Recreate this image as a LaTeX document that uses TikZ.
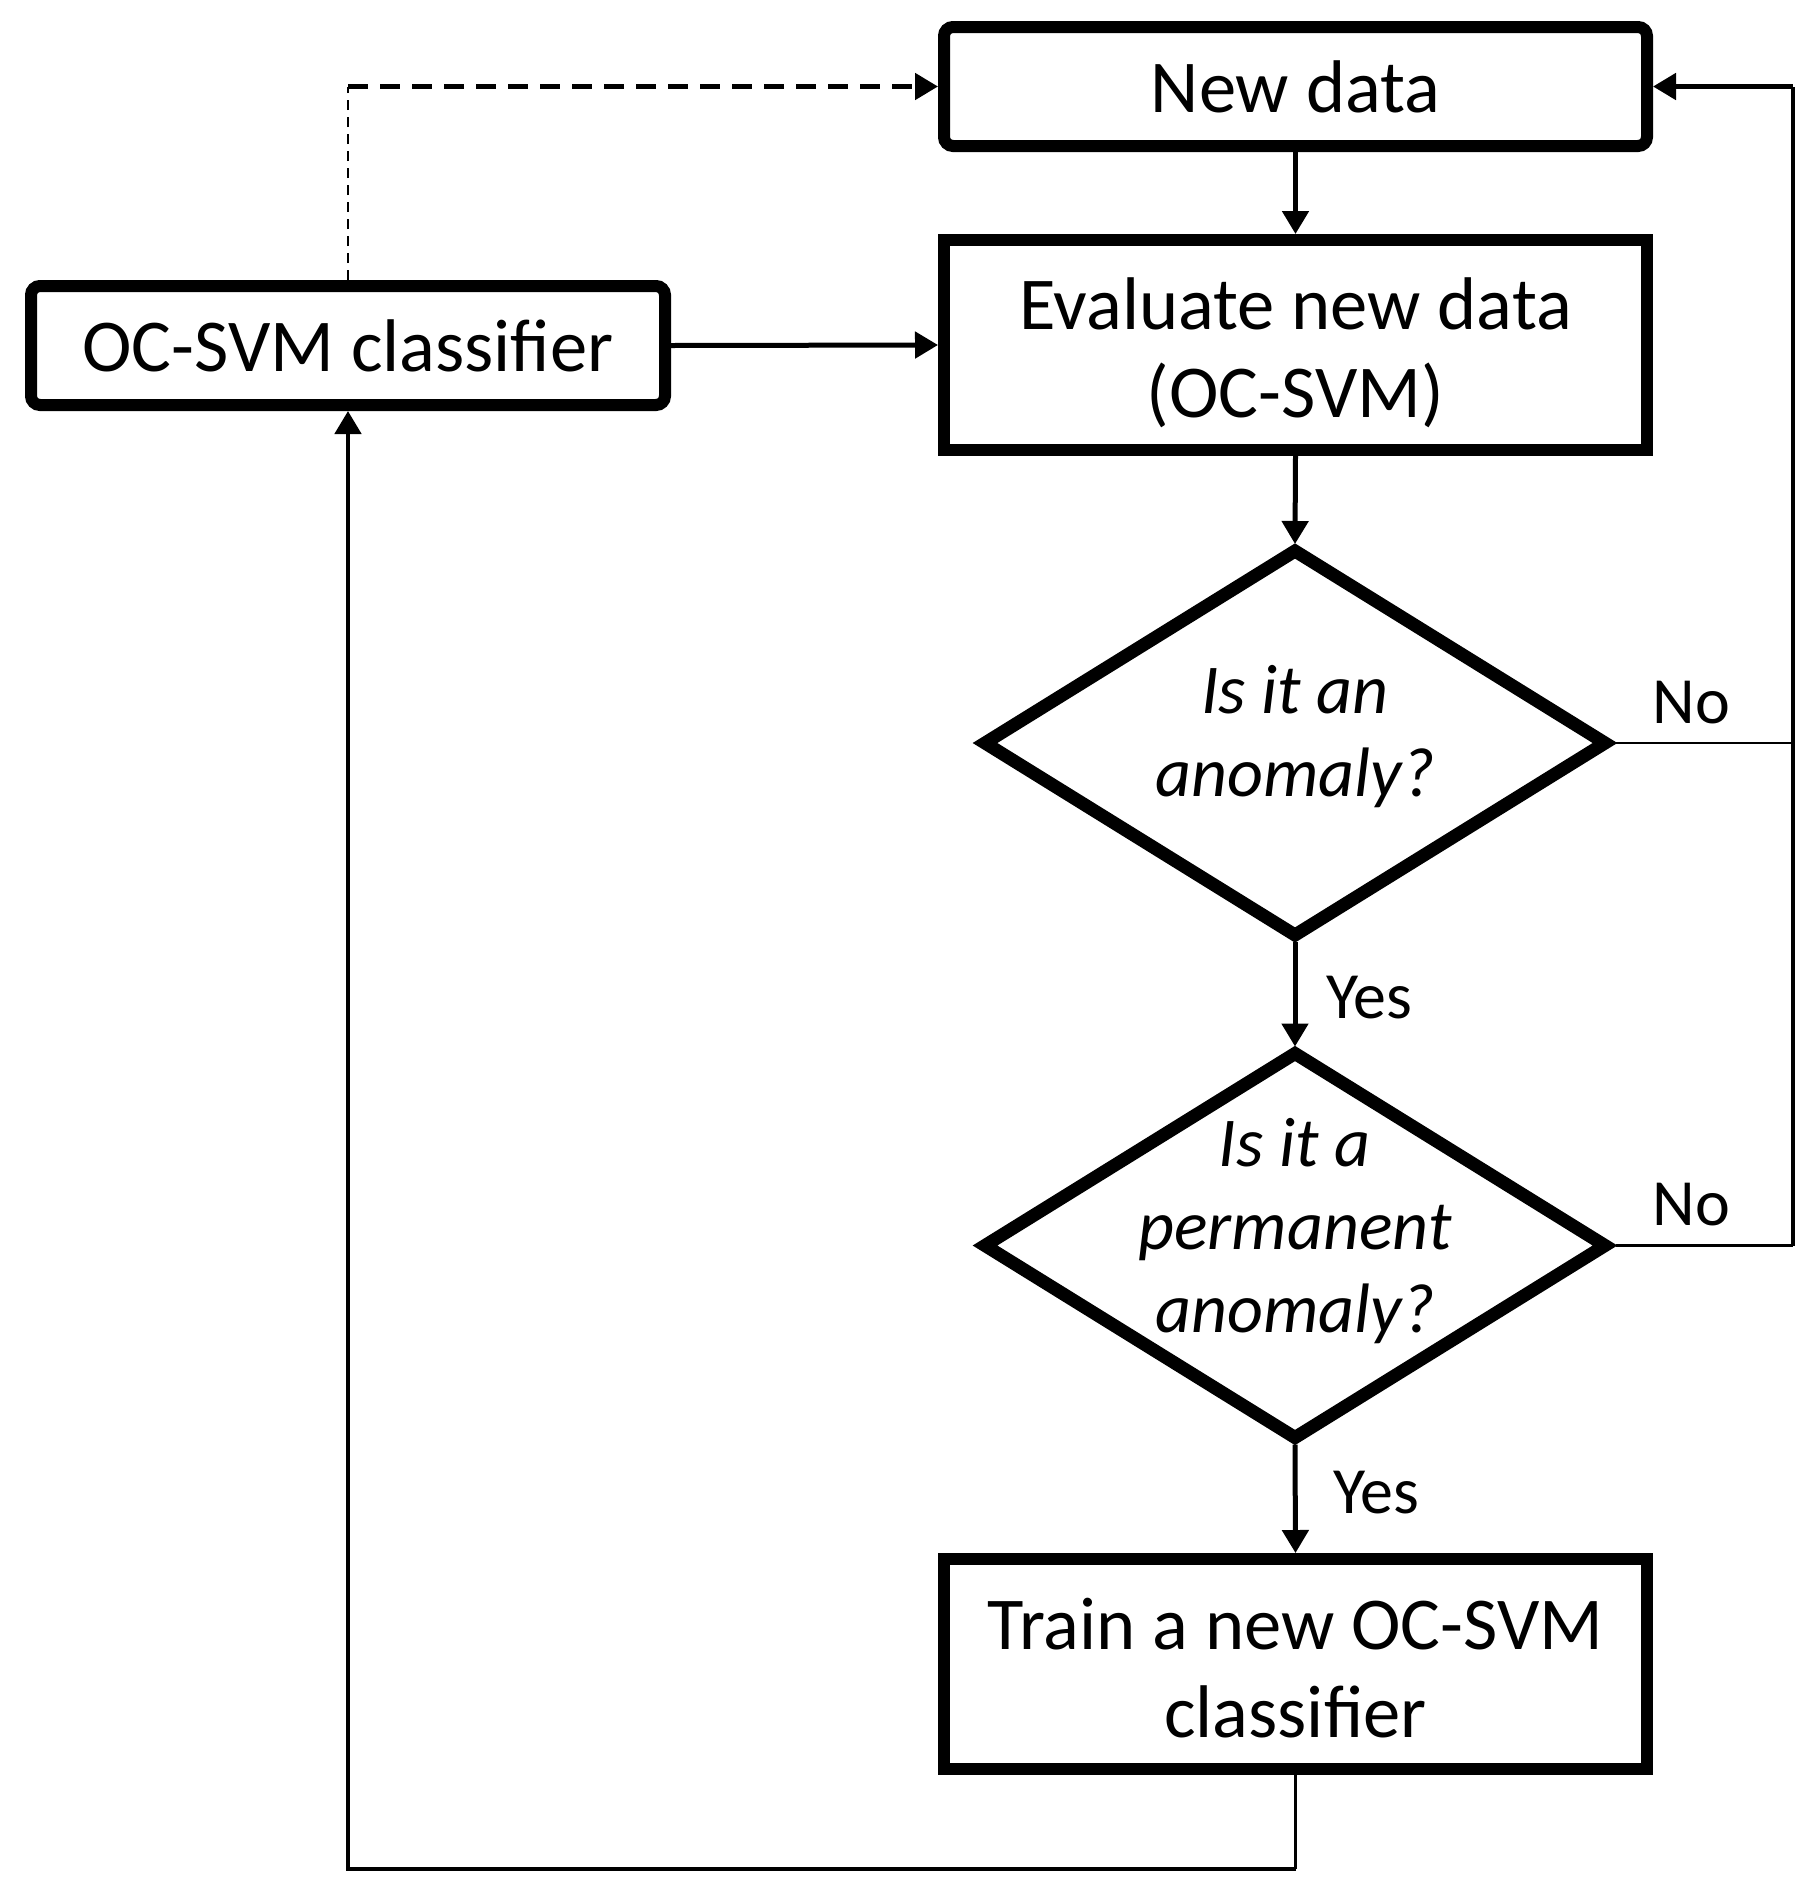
\documentclass[tikz,border=0pt]{standalone}
\usepackage{fontspec}
\setmainfont{Carlito}
\usetikzlibrary{arrows.meta}
\begin{document}
\begin{tikzpicture}[x=0.5pt,y=-0.5pt,
  box/.style={draw, line width=6pt, inner sep=0pt, align=center, minimum width=351.5pt,
    font=\fontsize{37.3pt}{44pt}\selectfont},
  rbox/.style={box, rounded corners=4.5pt},
  qtext/.style={inner sep=0pt, align=center, font=\fontsize{35pt}{41.5pt}\selectfont\itshape},
  lab/.style={inner sep=0pt, font=\fontsize{33pt}{38pt}\selectfont},
  tip/.style={-{Triangle[length=11.5pt,width=13pt]}},
  conn/.style={line width=2.5pt, tip},
  thinline/.style={line width=1.4pt},
  dia/.style={line width=6.5pt, miter limit=10}
]
\fill[white] (0,0) rectangle (1818,1896);
\useasboundingbox (0,0) rectangle (1818,1896);

% boxes
\node[rbox, minimum height=59.5pt] (nd) at (1295.5,86.5) {New data};
\node[box, minimum height=105pt] (ev) at (1295.5,345) {\rule{0pt}{34pt}Evaluate new data\\(OC-SVM)};
\node[box, minimum height=105pt] (tr) at (1295.5,1664) {\rule{0pt}{30pt}Train a new OC-SVM\\classifier};
\node[rbox, minimum width=317pt, minimum height=59.5pt] (oc) at (348,345.5) {OC-SVM classifier};

% diamonds
\node[qtext] (d1) at (1295,737) {Is it an\\anomaly?};
\node[qtext] (d2) at (1295,1231.5) {Is it a\\permanent\\anomaly?};
\draw[dia] (1295,551) -- (1605,743) -- (1295,935) -- (985,743) -- cycle;
\draw[dia] (1295,1053.5) -- (1605,1245.5) -- (1295,1437.5) -- (985,1245.5) -- cycle;
\coordinate (d1T) at (1295,544);
\coordinate (d1B) at (1295,942);
\coordinate (d1R) at (1616,743);
\coordinate (d2T) at (1295,1046.5);
\coordinate (d2B) at (1295,1444.5);
\coordinate (d2R) at (1616,1245.5);

% helper coordinates
\coordinate (r1) at (1793,743);
\coordinate (r2) at (1793,1245.5);
\coordinate (rtop) at (1793,86.5);
\coordinate (b1) at (1295.5,1869);
\coordinate (b2) at (348,1869);
\coordinate (dc) at (348,86.5);

% connectors
\draw[conn] (nd.south) -- (ev.north);
\draw[conn] (oc.east) -- (ev.west);
\draw[conn] (ev.south) -- (d1T);
\draw[conn] (d1B) -- (d2T);
\draw[conn] (d2B) -- (tr.north);
\draw[thinline] (d1R) -- (r1);
\draw[thinline] (d2R) -- (r2);
\draw[line width=2pt] (r2) -- (rtop);
\draw[conn] (rtop) -- (nd.east);
\draw[line width=1.5pt] (tr.south) -- (b1);
\draw[line width=2.4pt, tip] (b1) -- (b2) -- (oc.south);
\draw[line width=1.4pt, dash pattern=on 5pt off 3.5pt] (oc.north) -- (dc);
\draw[line width=2.5pt, dash pattern=on 10pt off 6pt, tip] (dc) -- (nd.west);

% labels
\node[lab, anchor=base west] (no1) at (1652,723) {No};
\node[lab, anchor=base west] (no2) at (1652,1225) {No};
\node[lab, anchor=base west] (yes1) at (1326,1018) {Yes};
\node[lab, anchor=base west] (yes2) at (1333,1513) {Yes};
\end{tikzpicture}
\end{document}
